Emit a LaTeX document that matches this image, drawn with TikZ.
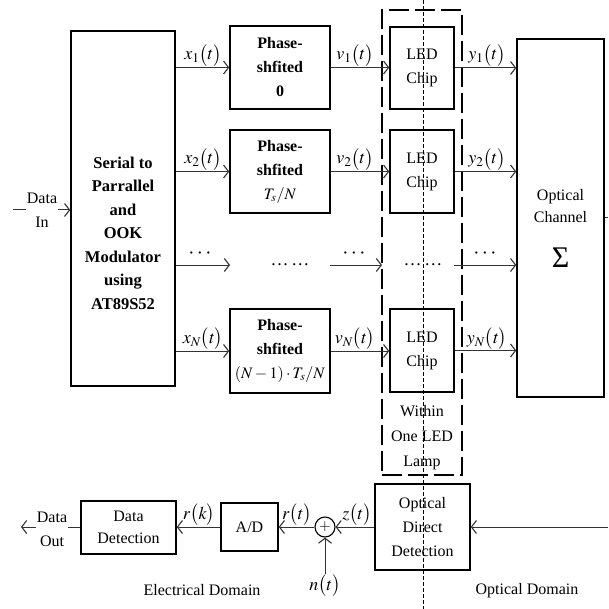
\documentclass[tikz,border=0pt]{standalone}
\usepackage{mathptmx}
\usepackage{fontspec}
\setmainfont{Liberation Serif}
\usetikzlibrary{arrows.meta}
\begin{document}
\begin{tikzpicture}[x=1pt,y=-1pt,
  font=\fontsize{16}{24}\selectfont,
  blk/.style={draw, line width=1.5pt, inner sep=0pt, align=center},
  conn/.style={line width=1pt, draw=black!80, -{Straight Barb[length=5pt,width=13pt,line width=1.1pt]}},
  plain/.style={line width=1pt, draw=black!80},
  lbl/.style={anchor=south, inner sep=1pt, font=\fontsize{18}{18}\selectfont},
  txt/.style={align=center, inner sep=0pt},
  dots/.style={inner sep=0pt, font=\fontsize{22}{22}\selectfont},
]
\useasboundingbox (0,0) rectangle (608,609);

% ---------- top blocks ----------
\node[blk, minimum width=104pt, minimum height=355pt] (sp) at (123,208.5) {};
\node[txt, font=\fontsize{16.5}{23.5}\selectfont\bfseries] (sptxt) at (123,233)
  {Serial to\\Parrallel\\and\\OOK\\Modulator\\using\\AT89S52};

\node[blk, minimum width=100pt, minimum height=83pt, font=\fontsize{16}{24}\selectfont\bfseries] (ph1) at (280,67.5) {Phase-\\shfited\\0};
\node[blk, minimum width=100pt, minimum height=83pt, font=\fontsize{16}{24}\selectfont\bfseries] (ph2) at (280,171.5) {Phase-\\shfited\\$T_s/N$};
\node[blk, minimum width=100pt, minimum height=84pt, font=\fontsize{16}{24}\selectfont\bfseries] (phN) at (280,351) {Phase-\\shfited\\$(N-1)\cdot T_s/N$};

\node[blk, minimum width=64pt, minimum height=82pt] (led1) at (422,68) {LED\\Chip};
\node[blk, minimum width=64pt, minimum height=83pt] (led2) at (422,171.5) {LED\\Chip};
\node[blk, minimum width=64pt, minimum height=83pt] (ledN) at (422,350.5) {LED\\Chip};

\node[blk, minimum width=87pt, minimum height=358pt] (oc) at (560.5,218) {};
\node[txt, font=\fontsize{16}{22}\selectfont] (octxt) at (560.5,206) {Optical\\Channel};
\node[txt, font=\fontsize{30}{30}\selectfont] (sig) at (560.5,258) {Σ};

% lamp frame
\node[draw, line width=2pt, dash pattern=on 20pt off 6pt, minimum width=80pt, minimum height=465pt, inner sep=0pt] (lamp) at (422,242.5) {};
\node[txt, font=\fontsize{16}{25}\selectfont] (wtxt) at (422,438) {Within\\One LED\\Lamp};

% ---------- top connectors ----------
\coordinate (din) at (13,210);
\draw[conn] (din) -- (din -| sp.west);
\node[txt, fill=white, inner sep=1pt] (dintxt) at (42,210) {Data\\In};

\draw[conn] (sp.east |- ph1.west) -- (ph1.west);
\draw[conn] (sp.east |- ph2.west) -- (ph2.west);
\draw[conn] (sp.east |- phN.west) -- (phN.west);
\node[lbl] (lx1) at (203,67.5) {$x_1\bigl(t\bigr)$};
\node[lbl] (lx2) at (203,171.5) {$x_2\bigl(t\bigr)$};
\node[lbl] (lxN) at (203,351) {$x_N\bigl(t\bigr)$};

\draw[conn] (ph1.east) -- (ph1.east -| led1.west);
\draw[conn] (ph2.east) -- (ph2.east -| led2.west);
\draw[conn] (phN.east) -- (phN.east -| ledN.west);
\node[lbl] (lv1) at (355,67.5) {$v_1\bigl(t\bigr)$};
\node[lbl] (lv2) at (355,171.5) {$v_2\bigl(t\bigr)$};
\node[lbl] (lvN) at (355,351) {$v_N\bigl(t\bigr)$};

\draw[conn] (led1.east) -- (led1.east -| oc.west);
\draw[conn] (led2.east) -- (led2.east -| oc.west);
\draw[conn] (ledN.east) -- (ledN.east -| oc.west);
\node[lbl] (ly1) at (487,67.5) {$y_1\bigl(t\bigr)$};
\node[lbl] (ly2) at (487,171.5) {$y_2\bigl(t\bigr)$};
\node[lbl] (lyN) at (487,351) {$y_N\bigl(t\bigr)$};

% dots row
\coordinate (d1) at (230,265);
\coordinate (d2a) at (330,265);
\coordinate (d2b) at (382,265);
\coordinate (d3a) at (454,265);
\draw[conn] (sp.east |- d1) -- (d1);
\draw[conn] (d2a) -- (d2b);
\draw[conn] (d3a) -- (d3a -| oc.west);
\node[dots] (dd1) at (200,254) {$\cdots$};
\node[dots] (dd2) at (354,254) {$\cdots$};
\node[dots] (dd3) at (485,254) {$\cdots$};
\node[inner sep=0pt, anchor=base, font=\fontsize{18}{18}\selectfont] (dm1) at (290,265) {\ldots\,\ldots};
\node[inner sep=0pt, anchor=base, font=\fontsize{18}{18}\selectfont] (dm2) at (423,265) {\ldots\,\ldots};

% right edge stub
\coordinate (ocout) at (608,218);
\draw[plain] (oc.east) -- (ocout);

% ---------- bottom row ----------
\node[blk, minimum width=95pt, minimum height=86pt] (odd) at (422.5,527) {Optical\\Direct\\Detection};
\node[draw, circle, line width=1.1pt, minimum size=20pt, inner sep=0pt, font=\fontsize{15}{15}\selectfont] (sum) at (325,527) {$+$};
\node[blk, minimum width=57pt, minimum height=48pt] (ad) at (249.5,527) {A/D};
\node[blk, minimum width=95pt, minimum height=53pt, font=\fontsize{16}{22}\selectfont] (dd) at (128.5,527.5) {Data\\Detection};

\coordinate (rin) at (608,527);
\coordinate (dout) at (21,527);
\coordinate (nsrc) at (325,574);
\draw[conn] (rin) -- (odd.east);
\draw[conn] (odd.west) -- (sum.east);
\draw[conn] (sum.west) -- (ad.east);
\draw[conn] (ad.west) -- (dd.east |- ad.west);
\draw[conn] (dd.west |- ad.west) -- (dout);
\draw[conn] (nsrc) -- (sum.south);
\node[txt, fill=white, inner sep=1pt] (douttxt) at (52,529) {Data\\Out};

\node[lbl] (lz) at (357,527) {$z\bigl(t\bigr)$};
\node[lbl] (lr) at (297,527) {$r\bigl(t\bigr)$};
\node[lbl] (lk) at (199,527) {$r\bigl(k\bigr)$};
\node[anchor=north, inner sep=1pt, font=\fontsize{18}{18}\selectfont] (ln) at (nsrc) {$n\bigl(t\bigr)$};

% divider
\coordinate (dtop) at (423,0);
\coordinate (dbot) at (423,609);
\draw[line width=1pt, dash pattern=on 4pt off 2pt] (dtop) -- (dbot);

\node (eld) at (202,590) {Electrical Domain};
\node (opd) at (527,591) {Optical Domain};
\end{tikzpicture}
\end{document}
